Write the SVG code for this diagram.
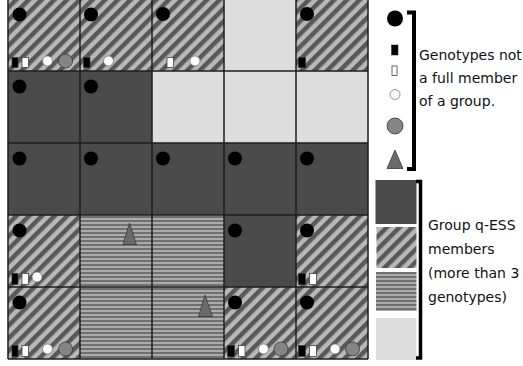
<svg xmlns="http://www.w3.org/2000/svg" width="523" height="366" viewBox="0 0 523 366">
<style>
.dk{fill:#4a4a4a}
.lt{fill:#dddddd}
.st{fill:url(#diag)}
.hz{fill:url(#horiz)}
.bc{fill:#000}
.br{fill:#000;stroke:#333;stroke-width:0.6}
.wr{fill:#fff;stroke:#444;stroke-width:0.8}
.wc{fill:#fff;stroke:#777;stroke-width:0.8}
.gc{fill:#858585;stroke:#3a3a3a;stroke-width:0.8}
.tri{fill:#6a6a6a;stroke:#3a3a3a;stroke-width:0.8}
.grid{fill:none;stroke:#1e1e1e;stroke-width:1.5}
.lbl{font-family:"DejaVu Sans",sans-serif;font-size:14px;fill:#111}
.brk{fill:none;stroke:#000;stroke-width:4}
</style>
<defs>
<pattern id="diag" width="9" height="9" patternUnits="userSpaceOnUse" patternTransform="rotate(45)">
<rect width="9" height="9" fill="#b8b8b8"/>
<rect width="4.5" height="9" fill="#585858"/>
</pattern>
<pattern id="horiz" width="4" height="4" patternUnits="userSpaceOnUse">
<rect width="4" height="4" fill="#acacac"/>
<rect width="4" height="2" fill="#707070"/>
</pattern>
</defs>
<rect width="523" height="366" fill="#fff"/>

<!-- Row 0 -->
<g id="c00"><rect class="st" x="8" y="-1" width="72" height="72"/><circle class="bc" cx="19.5" cy="14.5" r="7"/><rect class="br" x="12" y="57.5" width="6" height="10"/><rect class="wr" x="22" y="57.5" width="6.5" height="10"/><circle class="wc" cx="47.5" cy="61" r="5"/><circle class="gc" cx="65.5" cy="61" r="7"/></g>
<g id="c01"><rect class="st" x="80" y="-1" width="72" height="72"/><circle class="bc" cx="91" cy="14.5" r="7"/><rect class="br" x="83.5" y="57.5" width="6.5" height="10"/><circle class="wc" cx="108.5" cy="61" r="5"/></g>
<g id="c02"><rect class="st" x="152" y="-1" width="72" height="72"/><circle class="bc" cx="163" cy="14" r="7"/><rect class="wr" x="167" y="57.5" width="6.5" height="10"/><circle class="wc" cx="195" cy="61" r="5"/></g>
<g id="c03"><rect class="lt" x="224" y="-1" width="72" height="72"/></g>
<g id="c04"><rect class="st" x="296" y="-1" width="72" height="72"/><circle class="bc" cx="307" cy="14" r="7"/><rect class="br" x="298.5" y="57.5" width="7" height="10"/></g>

<!-- Row 1 -->
<g id="c10"><rect class="dk" x="8" y="71" width="72" height="72"/><circle class="bc" cx="19.5" cy="86.5" r="7"/></g>
<g id="c11"><rect class="dk" x="80" y="71" width="72" height="72"/><circle class="bc" cx="91" cy="86.5" r="7"/></g>
<g id="c12"><rect class="lt" x="152" y="71" width="72" height="72"/></g>
<g id="c13"><rect class="lt" x="224" y="71" width="72" height="72"/></g>
<g id="c14"><rect class="lt" x="296" y="71" width="72" height="72"/></g>

<!-- Row 2 -->
<g id="c20"><rect class="dk" x="8" y="143" width="72" height="72"/><circle class="bc" cx="19.5" cy="158.5" r="7"/></g>
<g id="c21"><rect class="dk" x="80" y="143" width="72" height="72"/><circle class="bc" cx="91" cy="158.5" r="7"/></g>
<g id="c22"><rect class="dk" x="152" y="143" width="72" height="72"/><circle class="bc" cx="163" cy="158.5" r="7"/></g>
<g id="c23"><rect class="dk" x="224" y="143" width="72" height="72"/><circle class="bc" cx="235" cy="158.5" r="7"/></g>
<g id="c24"><rect class="dk" x="296" y="143" width="72" height="72"/><circle class="bc" cx="307" cy="158.5" r="7"/></g>

<!-- Row 3 -->
<g id="c30"><rect class="st" x="8" y="215" width="72" height="72"/><circle class="bc" cx="19.5" cy="230.5" r="7"/><rect class="br" x="12" y="273.5" width="6" height="11"/><rect class="wr" x="22" y="273.5" width="6.5" height="11"/><circle class="wc" cx="37" cy="277" r="5"/></g>
<g id="c31"><rect class="hz" x="80" y="215" width="72" height="72"/><polygon class="tri" points="129.5,223 123,244.5 136.5,244.5"/></g>
<g id="c32"><rect class="hz" x="152" y="215" width="72" height="72"/></g>
<g id="c33"><rect class="dk" x="224" y="215" width="72" height="72"/><circle class="bc" cx="235" cy="230.5" r="7"/></g>
<g id="c34"><rect class="st" x="296" y="215" width="72" height="72"/><circle class="bc" cx="307" cy="230.5" r="7"/><rect class="br" x="298.5" y="273.5" width="7" height="11"/><rect class="wr" x="309.5" y="273.5" width="7" height="11"/></g>

<!-- Row 4 -->
<g id="c40"><rect class="st" x="8" y="287" width="72" height="72"/><circle class="bc" cx="19.5" cy="302.5" r="7"/><rect class="br" x="12" y="345.5" width="6" height="11"/><rect class="wr" x="22" y="345.5" width="6.5" height="11"/><circle class="wc" cx="47.5" cy="349" r="5"/><circle class="gc" cx="65.5" cy="349" r="7"/></g>
<g id="c41"><rect class="hz" x="80" y="287" width="72" height="72"/></g>
<g id="c42"><rect class="hz" x="152" y="287" width="72" height="72"/><polygon class="tri" points="205,295 198.5,316.5 212.5,316.5"/></g>
<g id="c43"><rect class="st" x="224" y="287" width="72" height="72"/><circle class="bc" cx="235" cy="302.5" r="7"/><rect class="br" x="227.5" y="345.5" width="7" height="11"/><rect class="wr" x="238.5" y="345.5" width="6.5" height="11"/><circle class="wc" cx="263.5" cy="349" r="5"/><circle class="gc" cx="281" cy="349" r="7"/></g>
<g id="c44"><rect class="st" x="296" y="287" width="72" height="72"/><circle class="bc" cx="307" cy="302.5" r="7"/><rect class="br" x="298.5" y="345.5" width="7" height="11"/><rect class="wr" x="309.5" y="345.5" width="7" height="11"/><circle class="wc" cx="335" cy="349" r="5"/><circle class="gc" cx="352.5" cy="349" r="7"/></g>

<g id="gridlines">
<path class="grid" d="M8,-1V359M80,-1V359M152,-1V359M224,-1V359M296,-1V359M368,-1V359M8,71H368M8,143H368M8,215H368M8,287H368M8,359H368"/>
</g>

<!-- Legend: genotypes -->
<g id="legend-genotypes">
<circle class="bc" cx="395" cy="18.5" r="8"/>
<rect class="br" x="391.5" y="45" width="6.5" height="10"/>
<rect class="wr" x="392" y="66" width="5" height="9.5"/>
<circle class="wc" cx="395" cy="94.5" r="5"/>
<circle class="gc" cx="395" cy="126" r="8"/>
<polygon class="tri" points="395,150 387,168.5 403,168.5"/>
<path class="brk" d="M407,12.5H414V169H407"/>
<text class="lbl" x="419" y="60">Genotypes not</text>
<text class="lbl" x="419" y="83">a full member</text>
<text class="lbl" x="419" y="106">of a group.</text>
</g>

<!-- Legend: groups -->
<g id="legend-groups">
<rect class="dk" x="375.5" y="180" width="41" height="44"/>
<rect class="st" x="376.5" y="227" width="40" height="41"/>
<rect class="hz" x="376" y="272" width="40.5" height="39"/>
<rect class="lt" x="376" y="318" width="40.5" height="42"/>
<path class="brk" style="stroke-width:3.5" d="M416,181.5H420.5V358H416"/>
<text class="lbl" x="428" y="230">Group q-ESS</text>
<text class="lbl" x="428" y="254">members</text>
<text class="lbl" x="428" y="278">(more than 3</text>
<text class="lbl" x="428" y="302">genotypes)</text>
</g>
</svg>
